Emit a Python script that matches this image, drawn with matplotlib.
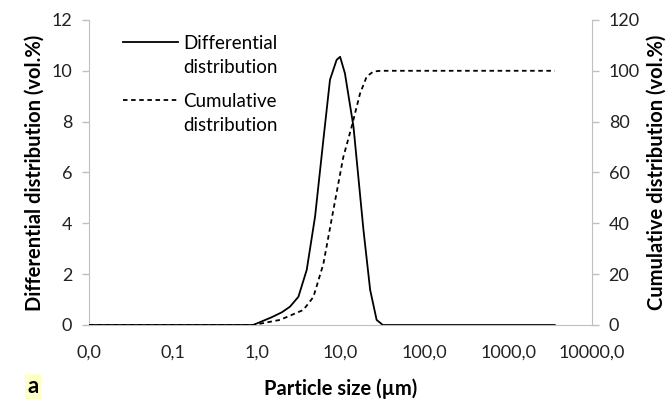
import matplotlib.pyplot as plt

plt.rcParams["font.family"] = ["Lato", "DejaVu Sans"]

# particle size classes (um)
size_diff = [0.01, 0.1, 0.5, 0.91, 1.5, 2.0, 2.5, 3.15, 3.96, 4.98, 6.25, 7.5,
             9.0, 9.9, 11.3, 14.3, 18.8, 22.6, 27.0, 32.0, 50.0, 100.0, 1000.0, 3600.0]
diff_vals = [0, 0, 0, 0, 0.3, 0.5, 0.72, 1.11, 2.17, 4.27, 7.28, 9.65,
             10.43, 10.55, 9.9, 7.8, 3.74, 1.38, 0.2, 0, 0, 0, 0, 0]

size_cum = [0.01, 0.1, 0.5, 0.91, 1.9, 3.6, 4.75, 6.25, 8.2, 10.8, 13.6,
            17.1, 20.6, 24.7, 30.0, 100.0, 1000.0, 3600.0]
cum_vals = [0, 0, 0, 0, 2.0, 5.9, 11.0, 24.0, 45.0, 66.0, 78.0,
            91.0, 97.8, 99.7, 100, 100, 100, 100]

x_ticks = [0.01, 0.1, 1, 10, 100, 1000, 10000]
x_tick_labels = ["0,0", "0,1", "1,0", "10,0", "100,0", "1000,0", "10000,0"]

grey = "#BFBFBF"

fig = plt.figure(figsize=(6.72, 3.99), dpi=100)
ax = fig.add_axes([0.1324, 0.1855, 0.7485, 0.7645])
ax2 = ax.twinx()

l1, = ax.plot(size_diff, diff_vals, color="black", lw=1.3, label="Differential\ndistribution")
l2, = ax2.plot(size_cum, cum_vals, color="black", lw=1.3, ls=(0, (2.5, 2)),
               label="Cumulative\ndistribution")

ax.set_xscale("log")
ax.set_xlim(0.01, 10000)
ax.set_xticks(x_ticks)
ax.set_xticklabels(x_tick_labels)
ax.minorticks_off()

ax.set_ylim(0, 12)
ax.set_yticks(range(0, 13, 2))
ax2.set_ylim(0, 120)
ax2.set_yticks(range(0, 121, 20))

for a in (ax, ax2):
    for s in a.spines.values():
        s.set_visible(False)
    a.tick_params(colors=grey, labelcolor="#222222", labelsize=13, length=5, width=1)
ax.spines["left"].set_visible(True)
ax.spines["left"].set_color(grey)
ax.spines["bottom"].set_visible(True)
ax.spines["bottom"].set_color(grey)
ax2.spines["right"].set_visible(True)
ax2.spines["right"].set_color(grey)
ax.tick_params(axis="x", length=0, pad=14)
ax.tick_params(axis="y", pad=7)
ax2.tick_params(axis="y", pad=7)

ax.set_xlabel("Particle size (µm)", fontsize=14.5, fontweight="bold", labelpad=13)
ax.set_ylabel("Differential distribution (vol.%)", fontsize=14.5, fontweight="bold", labelpad=5)
ax2.set_ylabel("Cumulative distribution (vol.%)", fontsize=14.5, fontweight="bold", labelpad=5)

leg = ax.legend(handles=[l1, l2], loc="upper left", bbox_to_anchor=(0.035, 1.005), frameon=False,
                fontsize=13.5, handlelength=2.9, handletextpad=0.3, labelspacing=0.95)
for t in leg.get_texts():
    t.set_linespacing(1.45)
# put the legend line next to the first text line
for col in leg._legend_handle_box.get_children():
    for row in col.get_children():
        row.align = "top"

fig.text(0.049, 0.004, "a", fontsize=16, fontweight="bold", ha="center", va="bottom",
         bbox=dict(facecolor="#FFFFC8", edgecolor="none", pad=1.5))

fig.savefig("out.png", dpi=100)
